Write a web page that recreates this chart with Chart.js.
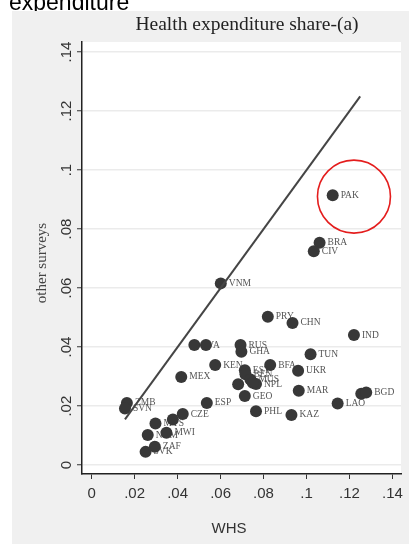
<!DOCTYPE html>
<html>
<head>
<meta charset="utf-8">
<script src="https://cdn.jsdelivr.net/npm/chart.js@4"></script>
<style>
  html, body { margin: 0; padding: 0; background: #fff; }
  canvas { display: block; }
</style>
</head>
<body>
<canvas id="whsChart" width="409" height="544"></canvas>
<script>
  // country codes and the two health expenditure shares (WHS vs other surveys)
  const countries = ['PAK', 'BRA', 'CIV', 'VNM', 'PRY', 'CHN', 'IND', 'LVA', '', 'RUS',
    'GHA', 'KEN', 'EST', 'BFA', 'MEX', 'BEN', 'MUS', '', 'NPL', '',
    'GEO', 'ESP', 'PHL', 'TUN', 'UKR', 'MAR', '', 'BGD', 'LAO', 'KAZ',
    'ZMB', 'SVN', 'CZE', '', 'MYS', 'MWI', 'NAM', 'ZAF', 'SVK'];
  const whs = [0.1122, 0.1061, 0.1034, 0.0601, 0.0820, 0.0935, 0.1221, 0.0478, 0.0532, 0.0693,
    0.0697, 0.0575, 0.0713, 0.0831, 0.0417, 0.0716, 0.0739, 0.0682, 0.0765, 0.0750,
    0.0713, 0.0536, 0.0765, 0.1019, 0.0961, 0.0964, 0.1255, 0.1278, 0.1145, 0.0930,
    0.0164, 0.0155, 0.0424, 0.0378, 0.0297, 0.0348, 0.0261, 0.0294, 0.0251];
  const otherSurveys = [0.0915, 0.0754, 0.0725, 0.0616, 0.0503, 0.0482, 0.0441, 0.0407, 0.0407, 0.0407,
    0.0384, 0.0339, 0.0322, 0.0339, 0.0299, 0.0308, 0.0290, 0.0274, 0.0275, 0.0279,
    0.0234, 0.0211, 0.0183, 0.0376, 0.0320, 0.0252, 0.0242, 0.0246, 0.0209, 0.0170,
    0.0211, 0.0192, 0.0173, 0.0155, 0.0141, 0.0110, 0.0102, 0.0062, 0.0045];

  // 45 degree line
  const fitX = [0.0155, 0.125];
  const fitY = [0.0155, 0.125];

  const xTickValues = [0, 0.02, 0.04, 0.06, 0.08, 0.1, 0.12, 0.14];
  const xTickLabels = ['0', '.02', '.04', '.06', '.08', '.1', '.12', '.14'];
  const yTickValues = [0, 0.02, 0.04, 0.06, 0.08, 0.1, 0.12, 0.14];
  const yTickLabels = ['0', '.02', '.04', '.06', '.08', '.1', '.12', '.14'];

  // highlighted country (red ring)
  const ringCenter = [0.1221, 0.0910];

  const serif = '"Liberation Serif", "Times New Roman", serif';
  const sans = '"Liberation Sans", Arial, sans-serif';

  // background, panel title and axis titles
  const framePlugin = {
    id: 'frame',
    beforeDraw(chart) {
      const ctx = chart.ctx;
      const a = chart.chartArea;
      ctx.save();
      ctx.fillStyle = '#fff';
      ctx.fillRect(0, 0, chart.width, chart.height);
      ctx.fillStyle = '#000';
      ctx.font = '23px ' + sans;
      ctx.textBaseline = 'alphabetic';
      ctx.fillText('expenditure', 9, 10);
      ctx.fillStyle = '#f0f0f0';
      ctx.fillRect(12, 11, chart.width - 12, chart.height - 11);
      ctx.fillStyle = '#fff';
      ctx.fillRect(a.left, a.top, a.right - a.left, a.bottom - a.top);

      ctx.fillStyle = '#222';
      ctx.textAlign = 'center';
      ctx.textBaseline = 'middle';
      ctx.font = '19.5px ' + serif;
      ctx.fillText('Health expenditure share-(a)', 247, 25);

      ctx.font = '15px ' + sans;
      ctx.fillStyle = '#333';
      ctx.fillText('WHS', 229, 529);

      ctx.translate(42, 263);
      ctx.rotate(-Math.PI / 2);
      ctx.font = '15px ' + serif;
      ctx.fillStyle = '#444';
      ctx.fillText('other surveys', 0, 0);
      ctx.restore();
    },
    beforeDatasetsDraw(chart) {
      // marker labels go under the markers, like the original
      const ctx = chart.ctx;
      const xs = chart.scales.x, ys = chart.scales.y;
      ctx.save();
      ctx.fillStyle = '#555';
      ctx.font = '9.5px ' + serif;
      ctx.textAlign = 'left';
      ctx.textBaseline = 'middle';
      countries.forEach((c, i) => {
        if (!c) return;
        ctx.fillText(c, xs.getPixelForValue(whs[i]) + 8, ys.getPixelForValue(otherSurveys[i]));
      });
      ctx.restore();
    },
    afterDatasetsDraw(chart) {
      const ctx = chart.ctx;
      const cx = chart.scales.x.getPixelForValue(ringCenter[0]);
      const cy = chart.scales.y.getPixelForValue(ringCenter[1]);
      ctx.save();
      ctx.strokeStyle = '#e41d1d';
      ctx.lineWidth = 1.6;
      ctx.beginPath();
      ctx.arc(cx, cy, 36.5, 0, Math.PI * 2);
      ctx.stroke();
      ctx.restore();
    }
  };

  const ctx = document.getElementById('whsChart').getContext('2d');
  new Chart(ctx, {
    type: 'scatter',
    data: {
      datasets: [{
        type: 'line',
        data: fitX.map((x, i) => ({ x: x, y: fitY[i] })),
        borderColor: '#454545',
        borderWidth: 2,
        pointRadius: 0,
        fill: false
      }, {
        data: whs.map((x, i) => ({ x: x, y: otherSurveys[i] })),
        backgroundColor: '#383838',
        borderColor: '#383838',
        borderWidth: 0,
        pointRadius: 6
      }]
    },
    options: {
      responsive: false,
      animation: false,
      layout: { padding: { top: 42, right: 4, left: 0, bottom: 0 } },
      plugins: {
        legend: { display: false },
        tooltip: { enabled: false }
      },
      scales: {
        x: {
          type: 'linear',
          min: -0.0045,
          max: 0.144,
          afterFit: s => { s.height = 70; },
          afterBuildTicks: s => { s.ticks = xTickValues.map(v => ({ value: v })); },
          ticks: {
            autoSkip: false,
            maxRotation: 0,
            minRotation: 0,
            padding: 6,
            color: '#333',
            font: { family: sans, size: 15 },
            callback: (v, i) => xTickLabels[i]
          },
          grid: { drawOnChartArea: false, tickLength: 5, tickColor: '#333', tickWidth: 1 },
          border: { color: '#222', width: 1.5 }
        },
        y: {
          type: 'linear',
          min: -0.003,
          max: 0.1434,
          afterFit: s => { s.width = 82; },
          afterBuildTicks: s => { s.ticks = yTickValues.map(v => ({ value: v })); },
          ticks: {
            autoSkip: false,
            minRotation: 90,
            maxRotation: 90,
            crossAlign: 'center',
            padding: 0,
            color: '#333',
            font: { family: sans, size: 15 },
            callback: (v, i) => yTickLabels[i]
          },
          grid: { color: '#ebebeb', lineWidth: 1.5, tickLength: 5, tickColor: '#333', tickWidth: 1 },
          border: { color: '#222', width: 1.5 }
        }
      }
    },
    plugins: [framePlugin]
  });
</script>
</body>
</html>
